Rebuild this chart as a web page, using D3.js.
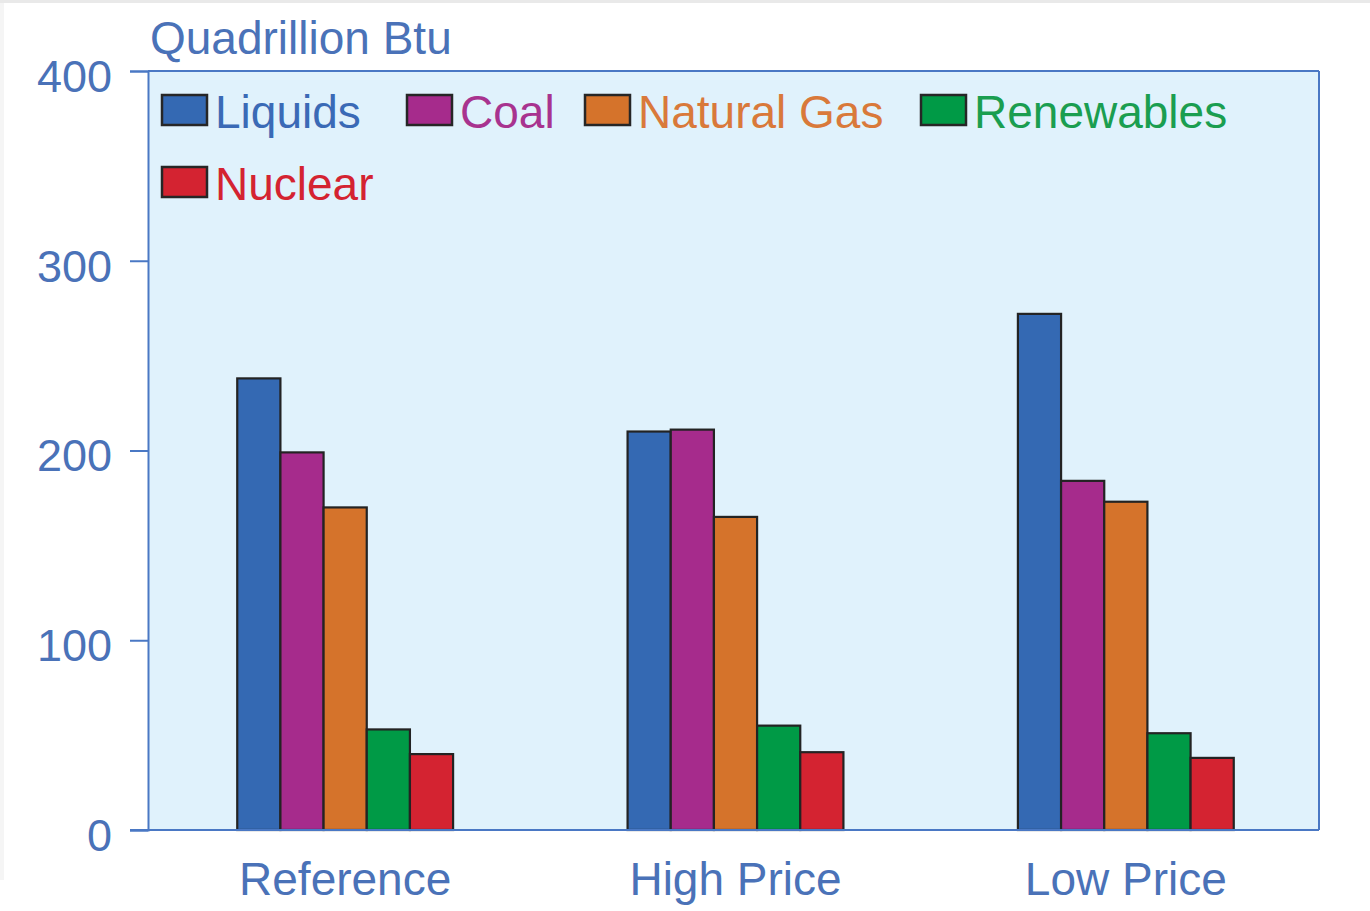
<!DOCTYPE html>
<html>
<head>
<meta charset="utf-8">
<script src="https://cdn.jsdelivr.net/npm/d3@7/dist/d3.min.js"></script>
<style>
  html, body { margin: 0; padding: 0; background: #ffffff; }
  svg { display: block; }
  text { font-family: "Liberation Sans", Arial, sans-serif; }
</style>
</head>
<body>
<svg id="chart" width="1370" height="911"></svg>
<script>
// ---- data ----
const categories = ["Reference", "High Price", "Low Price"];
const seriesNames = ["Liquids", "Coal", "Natural Gas", "Renewables", "Nuclear"];
const liquids     = [238, 210, 272];
const coal        = [199, 211, 184];
const naturalGas  = [170, 165, 173];
const renewables  = [53, 55, 51];
const nuclear     = [40, 41, 38];
const yTicks      = [0, 100, 200, 300, 400];
const unitLabel   = "Quadrillion Btu";

(function () {
// ---- styling ----
const fills = ["#3469b3", "#a62b8c", "#d5732b", "#009a46", "#d42331"];
const textColors = ["#3a6ab6", "#a8338f", "#d9793a", "#1a9e50", "#d42331"];
const axisColor = "#4a78c4";
const tickTextColor = "#4a72b8";
const fontSize = 45;
const textSize = 46;

const values = [liquids, coal, naturalGas, renewables, nuclear];
const table = categories.map((c, i) => ({
  category: c,
  items: seriesNames.map((s, j) => ({ series: s, value: values[j][i], idx: j }))
}));

const svg = d3.select("#chart");

// page frame
svg.append("rect").attr("x", 0).attr("y", 0).attr("width", 1370).attr("height", 3).attr("fill", "#e9e9e9");
svg.append("rect").attr("x", 0).attr("y", 3).attr("width", 4).attr("height", 877).attr("fill", "#f5f5f5");

const pL = 148, pR = 1319, pT = 71, pB = 830;

const y = d3.scaleLinear().domain([0, 400]).range([pB, pT]);
const x0 = d3.scaleBand().domain(categories).range([pL + 2, pR + 2])
  .paddingInner(0.447).paddingOuter(0.2235);
const x1 = d3.scaleBand().domain(seriesNames).range([0, x0.bandwidth()]);

// plot background
svg.append("rect")
  .attr("x", pL).attr("y", pT)
  .attr("width", pR - pL).attr("height", pB - pT)
  .attr("fill", "#e0f2fc");

// bars
const groups = svg.append("g").selectAll("g").data(table).join("g")
  .attr("transform", d => `translate(${x0(d.category)},0)`);
groups.selectAll("rect").data(d => d.items).join("rect")
  .attr("x", d => x1(d.series))
  .attr("y", d => y(d.value))
  .attr("width", x1.bandwidth())
  .attr("height", d => y(0) - y(d.value))
  .attr("fill", d => fills[d.idx])
  .attr("stroke", "#232323")
  .attr("stroke-width", 2.2);

// frame top/right
svg.append("line").attr("x1", pL).attr("x2", pR).attr("y1", pT).attr("y2", pT)
  .attr("stroke", axisColor).attr("stroke-width", 2);
svg.append("line").attr("x1", pR).attr("x2", pR).attr("y1", pT).attr("y2", pB)
  .attr("stroke", axisColor).attr("stroke-width", 2);

// y axis
const yAxis = d3.axisLeft(y).tickValues(yTicks).tickSize(18).tickPadding(18).tickFormat(d3.format("d"));
const yg = svg.append("g").attr("transform", `translate(${pL},0)`).call(yAxis);
yg.select(".domain").attr("stroke", axisColor).attr("stroke-width", 2);
yg.selectAll(".tick line").attr("stroke", axisColor).attr("stroke-width", 2);
yg.selectAll(".tick text").attr("fill", tickTextColor).attr("font-size", fontSize)
  .attr("font-family", "'Liberation Sans', Arial, sans-serif").attr("dy", "0.45em");

// x axis
const xAxis = d3.axisBottom(x0).tickSize(0).tickPadding(32);
const xg = svg.append("g").attr("transform", `translate(0,${pB})`).call(xAxis);
xg.select(".domain").remove();
xg.selectAll(".tick text").attr("fill", tickTextColor).attr("font-size", textSize)
  .attr("font-family", "'Liberation Sans', Arial, sans-serif");
svg.append("line").attr("x1", 130).attr("x2", pR).attr("y1", pB).attr("y2", pB)
  .attr("stroke", axisColor).attr("stroke-width", 2);

// unit label
svg.append("text").attr("x", 150).attr("y", 54).text(unitLabel)
  .attr("fill", tickTextColor).attr("font-size", textSize);

// legend
const legendPos = [[162, 95], [407, 95], [585, 95], [921, 95], [162, 167]];
const lg = svg.append("g").selectAll("g").data(seriesNames).join("g")
  .attr("transform", (d, i) => `translate(${legendPos[i][0]},${legendPos[i][1]})`);
lg.append("rect").attr("width", 45).attr("height", 30)
  .attr("fill", (d, i) => fills[i]).attr("stroke", "#262626").attr("stroke-width", 2.5);
lg.append("text").attr("x", 53).attr("y", 33).text(d => d)
  .attr("fill", (d, i) => textColors[i]).attr("font-size", textSize);
})();
</script>
</body>
</html>
